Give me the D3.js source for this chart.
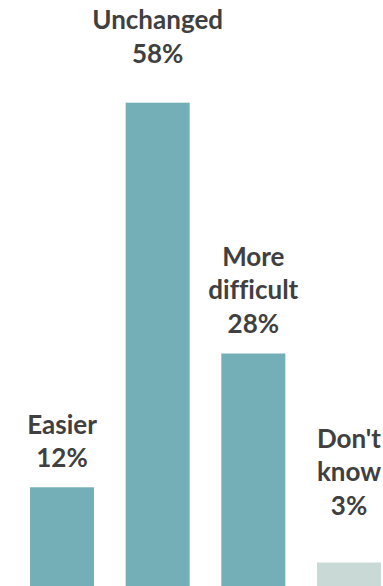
<!DOCTYPE html>
<html>
<head>
<meta charset="utf-8">
<script src="https://cdn.jsdelivr.net/npm/d3@7"></script>
<style>
  html, body { margin: 0; padding: 0; background: #ffffff; }
  svg { display: block; }
  text { font-variant-ligatures: none; font-feature-settings: "liga" 0; }
</style>
</head>
<body>
<svg id="chart" width="383" height="586"></svg>
<script>
// Survey answers and their shares (percent)
const categories = ["Easier", "Unchanged", "More difficult", "Don't know"];
const values = [12, 58, 28, 3];
// Label lines drawn above each bar
const labelLines = [["Easier"], ["Unchanged"], ["More", "difficult"], ["Don't", "know"]];

const width = 383, height = 586;
const svg = d3.select("#chart");

// Bars sit on a baseline just below the bottom edge
const x = d3.scaleBand()
  .domain(categories)
  .range([30, 381])
  .paddingInner(0.331)
  .paddingOuter(0);

const y = d3.scaleLinear()
  .domain([0, 58])
  .range([587.6, 102.7]);

const barColor = d => d === "Don't know" ? "#c9dad6" : "#74aeb6";

svg.append("g")
  .selectAll("rect")
  .data(categories)
  .join("rect")
  .attr("x", d => x(d))
  .attr("width", x.bandwidth())
  .attr("y", (d, i) => y(values[i]))
  .attr("height", (d, i) => y(0) - y(values[i]))
  .attr("fill", d => barColor(d));

// Gap between the last label line and the bar top, per category
const labelGap = { "Easier": 20, "Unchanged": 40, "More difficult": 21, "Don't know": 48 };
const lineH = 33.3;

const labels = svg.append("g")
  .attr("font-family", "Lato, 'Open Sans', sans-serif")
  .attr("font-weight", 700)
  .attr("font-size", 26)
  .attr("fill", "#404040")
  .attr("text-anchor", "middle");

categories.forEach((c, i) => {
  const lines = labelLines[i].concat([values[i] + "%"]);
  const cx = x(c) + x.bandwidth() / 2;
  const lastBase = y(values[i]) - labelGap[c];
  const t = labels.append("text");
  lines.forEach((ln, j) => {
    t.append("tspan")
      .attr("x", cx)
      .attr("y", lastBase - (lines.length - 1 - j) * lineH)
      .text(ln);
  });
});
</script>
</body>
</html>
